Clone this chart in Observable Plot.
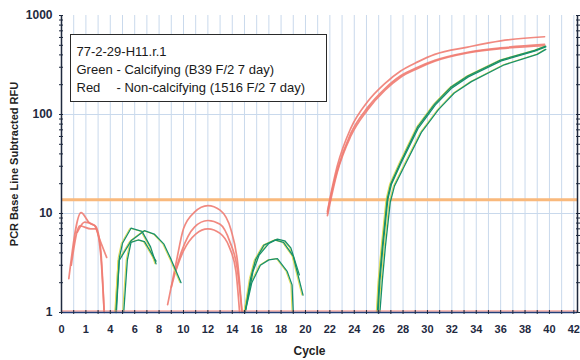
<!DOCTYPE html>
<html><head><meta charset="utf-8">
<script src="https://cdn.jsdelivr.net/npm/d3@7"></script>
<script src="https://cdn.jsdelivr.net/npm/@observablehq/plot@0.6"></script>
<style>
body{margin:0;background:#fff;}
#wrap{position:relative;width:580px;height:360px;}
#wrap svg text{font-weight:700;}
#legend{position:absolute;left:70px;top:34px;width:257px;height:68px;box-sizing:border-box;border:1.5px solid #2a2a2a;background:#fff;font:13px "Liberation Sans",Arial,sans-serif;line-height:18px;color:#1a1a1a;padding:8px 0 0 5.5px;white-space:pre;}
#legend .k{display:inline-block;width:40px;}
</style></head><body><div id="wrap"></div>
<script>
// ---- data ----
const legendTitle = "77-2-29-H11.r.1";
const legendGreen = ["Green", "- Calcifying (B39 F/2 7 day)"];
const legendRed = ["Red", "- Non-calcifying (1516 F/2 7 day)"];
const xLabel = "Cycle";
const yLabel = "PCR Base Line Subtracted RFU";
const xTickValues = [0,2,4,6,8,10,12,14,16,18,20,22,24,26,28,30,32,34,36,38,40,42];
const xTickLabels = ["0","1","4","6","8","10","12","14","16","18","20","22","24","26","28","30","32","34","36","38","40","42"];
const yTickValues = [1, 10, 100, 1000];
const yTickLabels = ["1", "10", "100", "1000"];
const threshold = 13.8;
const xMax = 42.3;

// [cycle, RFU] readings per well; null = trace goes below 1 (off the log scale)
const red1 = [[0.6,2.2],[1.6,10.2],[2.3,8.0],[2.8,7.4],[3.2,4.5],[3.5,1], null,
  [8.7,1.2],[9.4,3.2],[10.0,7.0],[10.9,10.3],[12.0,12.0],[13.0,10.8],[13.9,6.8],[14.45,3.1],[14.8,1], null,
  [21.8,10.5],[22.0,14],[22.6,30],[23.7,72],[25.1,135],[26.5,205],[27.8,275],[29.2,340],[30.6,405],[33.3,480],[36.0,555],[39.6,610]];
const red2 = [[0.8,3.0],[1.5,7.5],[2.4,7.0],[2.8,7.0],[3.2,4.0],[3.5,1], null,
  [9.0,1.8],[9.8,4.0],[10.9,7.3],[12.0,8.5],[13.0,7.8],[13.8,5.2],[14.4,2.8],[14.8,1], null,
  [21.8,10],[22.0,13.5],[22.6,27],[23.7,64],[25.1,118],[26.5,182],[27.8,246],[29.2,300],[30.6,352],[33.3,425],[36.0,470],[39.6,510]];
const red3 = [[1.3,6.5],[1.9,8.2],[2.7,7.6],[3.1,5.6],[3.7,3.6], null,
  [9.3,2.5],[10.0,4.2],[11.0,6.2],[12.0,7.0],[13.0,6.3],[13.75,4.6],[14.3,2.6],[14.6,1], null,
  [21.8,9.5],[22.0,12.5],[22.6,26],[23.7,60],[25.1,112],[26.5,175],[27.8,238],[29.2,292],[30.6,345],[33.3,418],[36.0,462],[39.6,495]];
const green1 = [[4.46,1],[4.75,3.6],[5.0,5.0],[5.7,7.1],[6.6,6.6],[7.3,4.6],[7.75,3.1], null,
  [15.05,1],[15.5,2.2],[15.9,3.4],[16.6,4.8],[17.5,5.4],[18.2,5.1],[19.0,3.7],[19.8,1.5], null,
  [25.9,1],[26.05,2.1],[26.3,4.6],[26.7,14],[27.0,20],[27.8,33],[29.2,75],[30.6,128],[31.9,188],[33.3,245],[36.0,355],[38.8,445],[39.7,490]];
const green2 = [[5.1,1],[5.4,3.4],[5.7,5.1],[6.3,5.4],[6.8,5.2],[7.2,4.3],[7.75,3.3], null,
  [15.05,1],[15.6,2.0],[16.3,3.0],[17.0,3.4],[17.7,3.5],[18.5,2.6],[18.9,1.9],[19.0,1], null,
  [26.1,1],[26.3,2.1],[26.55,4.6],[26.95,13],[27.3,19],[28.1,30],[29.5,66],[30.9,112],[32.2,165],[33.6,215],[36.3,318],[39.0,405],[39.7,455]];
const green3 = [[4.5,1],[4.73,3.35],[5.7,5.3],[6.8,6.7],[7.6,6.2],[8.4,4.9],[9.0,3.4],[9.8,2.0], null,
  [15.05,1],[15.7,2.6],[16.2,3.8],[17.0,5.0],[17.7,5.5],[18.3,5.3],[18.8,4.5],[19.5,2.4], null,
  [25.95,1],[26.1,2.1],[26.35,4.6],[26.75,13.8],[27.05,19.8],[27.85,32.5],[29.25,73],[30.65,125],[31.95,183],[33.35,240],[36.05,348],[38.85,438],[39.7,482]];

// ---- build tables ----
function toRows(series, name) {
  const rows = []; let seg = 0;
  for (const p of series) {
    if (p === null) { seg++; continue; }
    rows.push({cycle: p[0], rfu: p[1], key: name + "-" + seg});
  }
  return rows;
}
const redRows = [...toRows(red1,"r1"), ...toRows(red2,"r2"), ...toRows(red3,"r3")];
const greenRows = [...toRows(green1,"g1"), ...toRows(green2,"g2"), ...toRows(green3,"g3")];
const cycleGrid = d3.range(0, 43);
const minorTicks = [];
for (const dec of [1, 10, 100]) for (let k = 1; k <= 9; k++) minorTicks.push(dec * k);
minorTicks.push(1000);
const xLab = new Map(xTickValues.map((v, i) => [v, xTickLabels[i]]));
const yLab = new Map(yTickValues.map((v, i) => [v, yTickLabels[i]]));
const axisColor = "#1f2a3f";

const chart = Plot.plot({
  width: 580, height: 360,
  marginLeft: 61, marginRight: 3, marginTop: 15, marginBottom: 48,
  style: {fontFamily: '"Liberation Sans", Arial, sans-serif', background: "transparent", color: axisColor},
  x: {domain: [0, xMax]},
  y: {type: "log", domain: [1, 1000]},
  marks: [
    Plot.gridX(cycleGrid, {stroke: "#c9d9ec", strokeOpacity: 1}),
    Plot.gridY([10, 100], {stroke: "#c9d9ec", strokeOpacity: 1}),
    Plot.ruleY([threshold], {stroke: "#f9b97c", strokeWidth: 3}),
    Plot.line(redRows, {x: "cycle", y: "rfu", z: "key", stroke: "#f07c72", strokeWidth: 1.7, strokeOpacity: 0.9, curve: "monotone-x"}),
    Plot.line(greenRows, {x: "cycle", y: "rfu", z: "key", stroke: "#e3dc55", strokeWidth: 1, dx: -1.2}),
    Plot.line(greenRows, {x: "cycle", y: "rfu", z: "key", stroke: "#17906b", strokeWidth: 1.3}),
    Plot.ruleY([1], {stroke: "#f07c72", dy: -1.5}),
    Plot.ruleY([1], {stroke: "#24407a", strokeWidth: 1.5}),
    Plot.ruleX([0], {stroke: axisColor, strokeWidth: 1.5}),
    Plot.ruleX([xMax], {stroke: axisColor, strokeWidth: 1.5}),
    Plot.axisY({anchor: "left", ticks: yTickValues, tickFormat: d => yLab.get(d), tickSize: 0, tickPadding: 9, fontSize: 12, label: null}),
    Plot.axisY({anchor: "left", ticks: minorTicks, tickFormat: () => "", tickSize: 4, dx: 2, label: null}),
    Plot.axisY({anchor: "right", ticks: minorTicks, tickFormat: () => "", tickSize: 4, dx: -2, label: null}),
    Plot.axisX({ticks: cycleGrid, tickFormat: () => "", tickSize: 4, dy: -2, label: null}),
    Plot.axisX({ticks: xTickValues, tickFormat: d => xLab.get(d), tickSize: 0, tickPadding: 13, fontSize: 11, label: null}),
    Plot.text([yLabel], {frameAnchor: "left", textAnchor: "middle", rotate: -90, dx: -47, fontSize: 11, fill: "#222"}),
    Plot.text([xLabel], {frameAnchor: "bottom", dy: 42, dx: -10, fontSize: 12, fill: "#222"})
  ]
});
const wrap = document.getElementById("wrap");
wrap.appendChild(chart);
const legend = document.createElement("div");
legend.id = "legend";
legend.innerHTML = `<div>${legendTitle}</div><div><span class="k">${legendGreen[0]}</span>${legendGreen[1]}</div><div><span class="k">${legendRed[0]}</span>${legendRed[1]}</div>`;
wrap.appendChild(legend);
</script>
</body></html>
